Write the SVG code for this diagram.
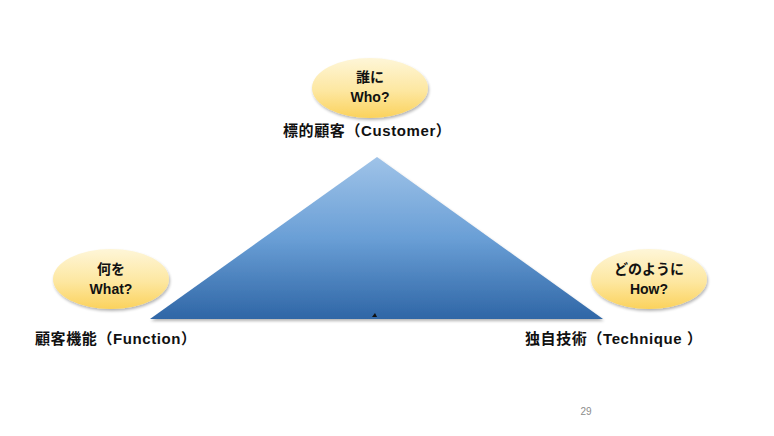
<svg xmlns="http://www.w3.org/2000/svg" width="774" height="436" viewBox="0 0 774 436">
<defs>
<linearGradient id="tri" x1="0" y1="0" x2="0" y2="1">
<stop offset="0" stop-color="#9fc3e8"/>
<stop offset="0.5" stop-color="#6a9fd6"/>
<stop offset="1" stop-color="#2f66a6"/>
</linearGradient>
<linearGradient id="ell" x1="0" y1="0" x2="0" y2="1">
<stop offset="0" stop-color="#fef6d8"/>
<stop offset="0.55" stop-color="#fde7a0"/>
<stop offset="1" stop-color="#fbd25c"/>
</linearGradient>
<filter id="sh" x="-20%" y="-20%" width="140%" height="150%">
<feGaussianBlur in="SourceAlpha" stdDeviation="1.5"/>
<feOffset dx="1" dy="2" result="b"/>
<feComponentTransfer><feFuncA type="linear" slope="0.3"/></feComponentTransfer>
<feMerge><feMergeNode/><feMergeNode in="SourceGraphic"/></feMerge>
</filter>
</defs>
<style>
.t{font-family:"Liberation Sans","Noto Sans CJK JP",sans-serif;font-weight:bold;fill:#111111}
.e{font-size:14px;text-anchor:middle}
.l{font-size:15px;letter-spacing:0.6px}
</style>
<rect width="774" height="436" fill="#ffffff"/>
<g id="connectors"></g>
<g id="triangle">
<polygon points="377,157 150,319 603,319" fill="url(#tri)" filter="url(#sh)"/>
<path d="M372,317 L375,313 L377,317 Z" fill="#111"/>
</g>
<g id="who">
<ellipse cx="370" cy="88" rx="58" ry="30" fill="url(#ell)" filter="url(#sh)"/>
<text class="t e" x="370" y="82">誰に</text>
<text class="t e" x="370" y="102">Who?</text>
<text class="t l" x="283" y="136">標的顧客（Customer）</text>
</g>
<g id="what">
<ellipse cx="111" cy="279" rx="58" ry="30" fill="url(#ell)" filter="url(#sh)"/>
<text class="t e" x="111" y="274">何を</text>
<text class="t e" x="111" y="294">What?</text>
<text class="t l" x="35" y="344">顧客機能（Function）</text>
</g>
<g id="how">
<ellipse cx="649" cy="279" rx="58" ry="30" fill="url(#ell)" filter="url(#sh)"/>
<text class="t e" x="649" y="274">どのように</text>
<text class="t e" x="649" y="294">How?</text>
<text class="t l" x="525" y="344">独自技術（Technique ）</text>
</g>
<text x="586" y="415" font-family="Liberation Sans,sans-serif" font-size="10" fill="#8c8c8c" text-anchor="middle">29</text>
</svg>
